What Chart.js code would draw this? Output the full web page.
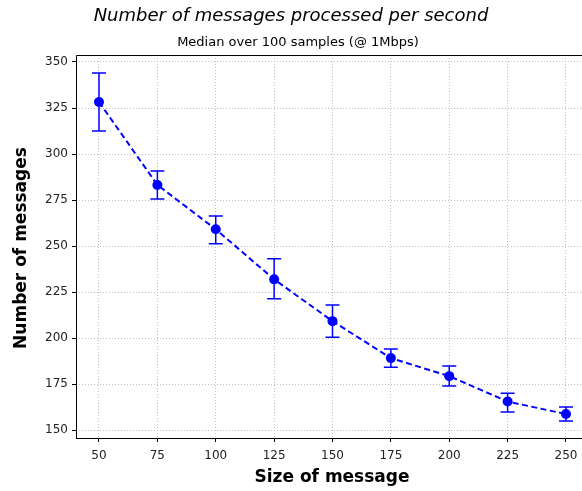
<!DOCTYPE html>
<html>
<head>
<meta charset="utf-8">
<script src="https://cdn.jsdelivr.net/npm/chart.js@4/dist/chart.umd.min.js"></script>
<style>
  html, body { margin: 0; padding: 0; background: #fff; overflow: hidden; }
  #wrap { width: 590px; height: 491px; }
</style>
</head>
<body>
<div id="wrap"><canvas id="chart" width="590" height="491"></canvas></div>
<script>
const sizes = [50, 75, 100, 125, 150, 175, 200, 225, 250];
const medians = [328.3, 283.2, 259.1, 231.9, 209.2, 189.1, 179.3, 165.5, 158.7];
const errLow = [312.5, 275.5, 251.2, 221.4, 200.5, 184.2, 173.9, 159.8, 155.0];
const errHigh = [344.0, 290.8, 266.3, 243.1, 218.0, 194.0, 184.8, 170.0, 162.5];
const xTicks = [50, 75, 100, 125, 150, 175, 200, 225, 250];
const yTicks = [150, 175, 200, 225, 250, 275, 300, 325, 350];

const BLUE = '#0000ff';
const FONT = '"DejaVu Sans", sans-serif';

// error bars, spines and all titles
const extras = {
  id: 'extras',
  afterDatasetsDraw(chart) {
    const { ctx, chartArea, scales } = chart;
    const x = scales.x, y = scales.y;
    ctx.save();
    ctx.strokeStyle = BLUE;
    ctx.lineWidth = 1.5;
    sizes.forEach((s, i) => {
      const px = x.getPixelForValue(s);
      const top = y.getPixelForValue(errHigh[i]);
      const bot = y.getPixelForValue(errLow[i]);
      ctx.beginPath();
      ctx.moveTo(px, top); ctx.lineTo(px, bot);
      ctx.moveTo(px - 7, top); ctx.lineTo(px + 7, top);
      ctx.moveTo(px - 7, bot); ctx.lineTo(px + 7, bot);
      ctx.stroke();
    });
    ctx.strokeStyle = '#000';
    ctx.lineWidth = 1;
    ctx.beginPath();
    ctx.moveTo(chartArea.left + 0.5, chartArea.bottom);
    ctx.lineTo(chartArea.left + 0.5, chartArea.top + 0.5);
    ctx.lineTo(chartArea.right, chartArea.top + 0.5);
    ctx.moveTo(chartArea.left, chartArea.bottom + 0.5);
    ctx.lineTo(chartArea.right, chartArea.bottom + 0.5);
    ctx.stroke();

    ctx.fillStyle = '#000';
    ctx.textAlign = 'center';
    ctx.textBaseline = 'middle';
    ctx.font = 'italic 18px ' + FONT;
    ctx.fillText('Number of messages processed per second', 291, 16);
    ctx.font = '13px ' + FONT;
    ctx.fillText('Median over 100 samples (@ 1Mbps)', 298, 43);
    ctx.font = 'bold 17px ' + FONT;
    ctx.fillText('Size of message', 332, 478);
    ctx.translate(22, 248);
    ctx.rotate(-Math.PI / 2);
    ctx.fillText('Number of messages', 0, 0);
    ctx.restore();
  }
};

const gridOpts = { color: '#b0b0b0', lineWidth: 0.8, tickLength: 4, tickColor: '#000', tickBorderDash: [], tickWidth: 1 };

new Chart(document.getElementById('chart'), {
  type: 'line',
  data: {
    datasets: [{
      data: sizes.map((s, i) => ({ x: s, y: medians[i] })),
      borderColor: BLUE,
      backgroundColor: BLUE,
      borderWidth: 2,
      borderDash: [6, 3.5],
      pointRadius: 5,
      pointBackgroundColor: BLUE,
      pointBorderWidth: 0,
      tension: 0
    }]
  },
  options: {
    responsive: false,
    animation: false,
    // canvas is a little wider than the page: the right end of the axes is cut off, as in the original
    layout: { autoPadding: false, padding: { top: 55, right: 0, left: 0, bottom: 0 } },
    plugins: { legend: { display: false }, tooltip: { enabled: false }, title: { display: false } },
    scales: {
      x: {
        type: 'linear',
        min: 40.15,
        max: 260.28,
        afterBuildTicks: (axis) => { axis.ticks = xTicks.map(v => ({ value: v })); },
        afterFit: (axis) => { axis.height = 53; axis.paddingLeft = 0; axis.paddingRight = 0; },
        ticks: { color: '#222', font: { family: FONT, size: 12 }, padding: 7, maxRotation: 0 },
        grid: gridOpts,
        border: { display: false, dash: [1, 2] }
      },
      y: {
        type: 'linear',
        min: 145.7,
        max: 353.8,
        afterBuildTicks: (axis) => { axis.ticks = yTicks.map(v => ({ value: v })); },
        afterFit: (axis) => { axis.width = 76; axis.paddingTop = 0; axis.paddingBottom = 0; },
        ticks: { color: '#222', font: { family: FONT, size: 12 }, padding: 4 },
        grid: gridOpts,
        border: { display: false, dash: [1, 2] }
      }
    }
  },
  plugins: [extras]
});
</script>
</body>
</html>
